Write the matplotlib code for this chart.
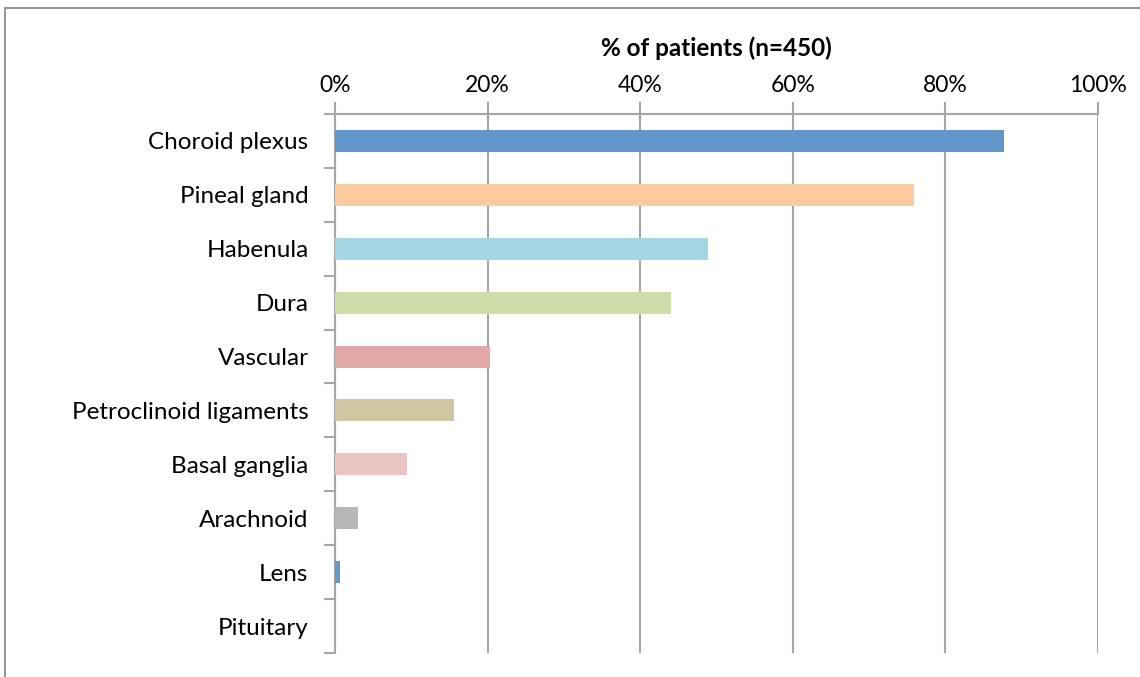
"""
Calcification sites by share of patients (n=450), horizontal bar chart.
"""

import matplotlib

matplotlib.use("Agg")
import matplotlib.pyplot as plt
from matplotlib.patches import Rectangle
from matplotlib.ticker import FixedLocator, PercentFormatter

# ----------------------------------------------------------------------
# Data
# ----------------------------------------------------------------------
sites = [
    "Choroid plexus", "Pineal gland", "Habenula", "Dura", "Vascular",
    "Petroclinoid ligaments", "Basal ganglia", "Arachnoid", "Lens", "Pituitary",
]
percent = [87.7, 75.9, 48.9, 44.0, 20.3, 15.6, 9.4, 3.0, 0.7, 0.0]
colors = [
    "#6197cb", "#fccb9f", "#a5d6e4", "#cddda9", "#e2a8a7",
    "#cec7a2", "#ecc4c3", "#b7b7b7", "#6197cb", "#6197cb",
]
x_ticks = [0, 20, 40, 60, 80, 100]
x_title = "% of patients (n=450)"

GRID = "#a6a6a6"

plt.rcParams["font.family"] = ["Lato", "DejaVu Sans"]

fig = plt.figure(figsize=(11.4, 6.77), dpi=100)
ax = fig.add_axes([335 / 1140, 1 - 653 / 677, (1098 - 335) / 1140, (653 - 114) / 677])

# outer chart frame (runs off the right and bottom edges like the source)
fig.patches.append(Rectangle((5 / 1140, -0.05), 1.2, 1 - 8 / 677 + 0.05,
                             transform=fig.transFigure, fill=False,
                             edgecolor="#9a9a9a", linewidth=1.5))

y = list(range(len(sites)))
ax.barh(y, percent, height=0.41, color=colors, zorder=3)

ax.set_xlim(0, 100)
ax.set_ylim(len(sites) - 0.5, -0.5)

ax.xaxis.tick_top()
ax.xaxis.set_label_position("top")
ax.set_xticks(x_ticks)
ax.xaxis.set_major_formatter(PercentFormatter(decimals=0))
ax.set_xlabel(x_title, fontsize=17.5, fontweight="bold", labelpad=14)
ax.tick_params(axis="x", length=9, width=1.5, color=GRID, labelsize=16.5, pad=4)
ax.grid(axis="x", color=GRID, linewidth=1.5, zorder=0)

ax.set_yticks(y)
ax.set_yticklabels(sites)
ax.tick_params(axis="y", which="major", length=0, labelsize=17.5, pad=19)
ax.yaxis.set_minor_locator(FixedLocator([i - 0.5 for i in range(len(sites) + 1)]))
ax.tick_params(axis="y", which="minor", length=8, width=1.5, color=GRID)

for side in ("right", "bottom"):
    ax.spines[side].set_visible(False)
for side in ("left", "top"):
    ax.spines[side].set_color(GRID)
    ax.spines[side].set_linewidth(1.5)

fig.savefig("out.png", dpi=100)
